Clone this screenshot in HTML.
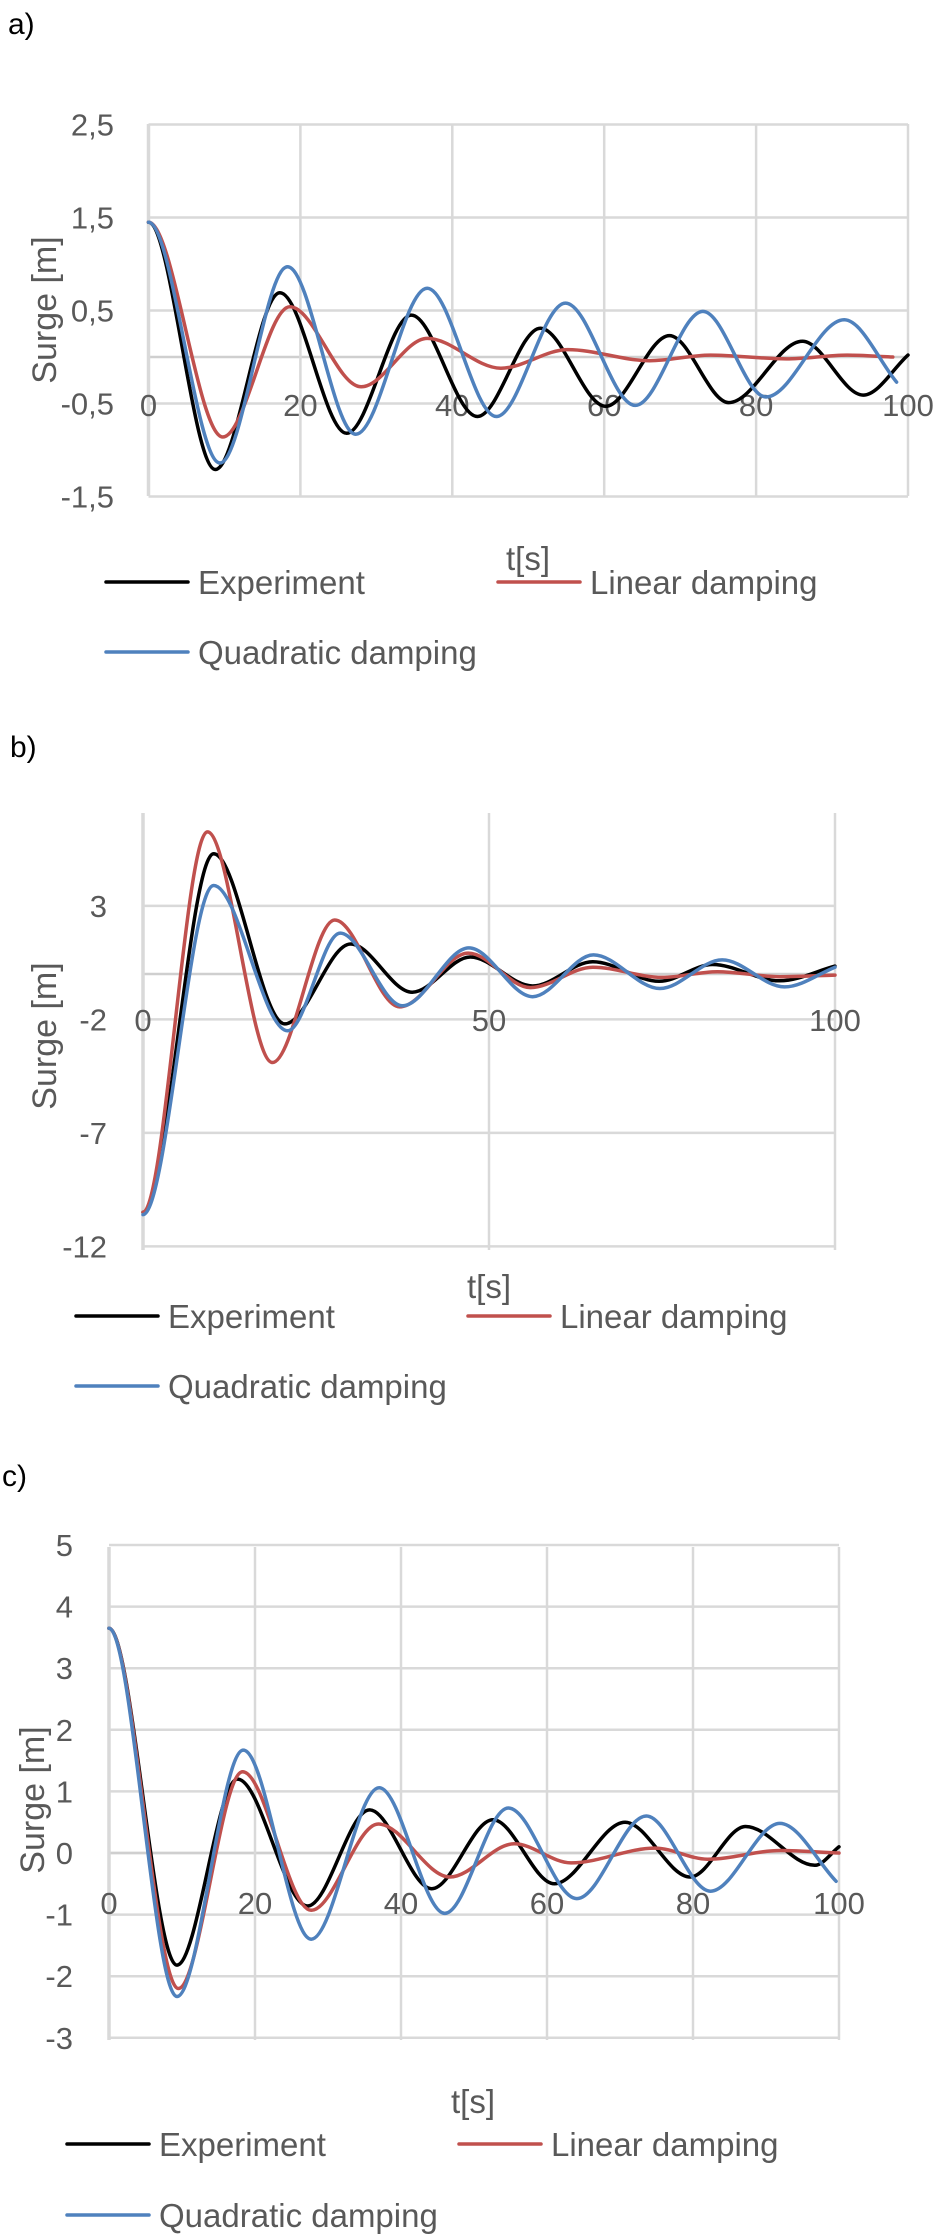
<!DOCTYPE html>
<html><head><meta charset="utf-8"><style>
html,body{margin:0;padding:0;background:#fff;}
svg{display:block;}
text{font-family:"Liberation Sans",sans-serif;}
</style></head><body>
<svg id="fig" width="943" height="2237" viewBox="0 0 943 2237" xmlns="http://www.w3.org/2000/svg"></svg>
<script>
// ---------- Chart a data ----------
const aExpT = [0, 8.8, 17.3, 26.1, 34.6, 43.3, 51.6, 60.2, 68.6, 76.4, 86.1, 94.1, 100];
const aExpV = [1.45, -1.21, 0.69, -0.82, 0.45, -0.64, 0.31, -0.53, 0.23, -0.49, 0.17, -0.41, 0.02];
const aLinT = [0, 9.8, 18.6, 28, 36.7, 46.4, 55.2, 66, 74, 84, 92, 98];
const aLinV = [1.45, -0.86, 0.54, -0.32, 0.2, -0.12, 0.08, -0.04, 0.02, -0.02, 0.02, 0.0];
const aQuaT = [0, 9.4, 18.3, 27.3, 36.7, 45.8, 54.9, 64.1, 73.0, 81.3, 91.6, 98.5];
const aQuaV = [1.45, -1.14, 0.97, -0.83, 0.74, -0.64, 0.58, -0.52, 0.49, -0.43, 0.40, -0.27];
const aYTicks = [2.5, 1.5, 0.5, -0.5, -1.5];
const aYLabels = ["2,5", "1,5", "0,5", "-0,5", "-1,5"];
const aXTicks = [0, 20, 40, 60, 80, 100];

// ---------- Chart b data ----------
const bExpT = [0, 10.2, 20.5, 30, 38.9, 47.3, 56.3, 65, 74.6, 82.3, 92, 100];
const bExpV = [-10.5, 5.3, -2.2, 1.32, -0.8, 0.75, -0.53, 0.54, -0.32, 0.42, -0.3, 0.35];
const bLinT = [0, 9.3, 18.7, 27.7, 37.1, 47, 56, 65, 75, 83, 92, 100];
const bLinV = [-10.5, 6.26, -3.9, 2.38, -1.45, 0.92, -0.6, 0.3, -0.15, 0.1, -0.12, -0.05];
const bQuaT = [0, 10.2, 20.9, 28.5, 37.5, 47.1, 56.3, 65.1, 74.7, 83.7, 92.7, 100];
const bQuaV = [-10.6, 3.9, -2.5, 1.8, -1.4, 1.15, -1.0, 0.84, -0.64, 0.62, -0.57, 0.3];
const bYTicks = [3, -2, -7, -12];
const bYLabels = ["3", "-2", "-7", "-12"];
const bXTicks = [0, 50, 100];

// ---------- Chart c data ----------
const cExpT = [0, 9.3, 17.6, 27.2, 35.7, 44.2, 52.6, 61, 70.7, 79.6, 87.2, 96.7, 100];
const cExpV = [3.65, -1.82, 1.2, -0.86, 0.7, -0.58, 0.54, -0.5, 0.5, -0.39, 0.43, -0.2, 0.1];
const cLinT = [0, 9.5, 18.3, 27.7, 36.9, 46.7, 55.5, 63.3, 74.8, 82, 92, 100];
const cLinV = [3.65, -2.2, 1.32, -0.93, 0.47, -0.39, 0.15, -0.16, 0.08, -0.1, 0.04, 0.0];
const cQuaT = [0, 9.3, 18.4, 27.7, 37, 46, 54.7, 64.1, 73.6, 82.4, 91.9, 99.6];
const cQuaV = [3.65, -2.33, 1.67, -1.4, 1.06, -0.98, 0.73, -0.74, 0.6, -0.62, 0.48, -0.46];
const cYTicks = [5, 4, 3, 2, 1, 0, -1, -2, -3];
const cYLabels = ["5", "4", "3", "2", "1", "0", "-1", "-2", "-3"];
const cXTicks = [0, 20, 40, 60, 80, 100];

const NS = "http://www.w3.org/2000/svg";
const svg = document.getElementById("fig");
function mk(tag, attrs, parent) {
  const e = document.createElementNS(NS, tag);
  for (const k in attrs) e.setAttribute(k, attrs[k]);
  (parent || svg).appendChild(e);
  return e;
}
const GRID = "#d9d9d9", TXT = "#595959";
const COLORS = {exp: "#000000", lin: "#c0504d", qua: "#4f81bd"};

function curvePath(ts, vs, sx, sy) {
  let d = "M" + sx(ts[0]).toFixed(1) + "," + sy(vs[0]).toFixed(1);
  for (let i = 0; i < ts.length - 1; i++) {
    const x0 = sx(ts[i]), y0 = sy(vs[i]), x1 = sx(ts[i + 1]), y1 = sy(vs[i + 1]);
    const dx = x1 - x0;
    const last = (i === ts.length - 2);
    const c1x = x0 + dx / 3, c1y = y0;
    const c2x = x1 - dx / 3, c2y = last ? y1 - (y1 - y0) / 3 : y1;
    d += " C" + c1x.toFixed(1) + "," + c1y.toFixed(1) + " " + c2x.toFixed(1) + "," + c2y.toFixed(1) + " " + x1.toFixed(1) + "," + y1.toFixed(1);
  }
  return d;
}

function chart(cfg) {
  const g = mk("g", {});
  
  
  const sx = t => cfg.left + (t - cfg.xmin) / (cfg.xmax - cfg.xmin) * (cfg.right - cfg.left);
  const sy = v => cfg.zeroY - v * cfg.pxPerUnit;

  const lab = mk("text", {x: cfg.labX, y: cfg.labY, "font-size": 30, fill: "#000"}, g);
  lab.textContent = cfg.id + ")";
  
  

  // horizontal gridlines
  cfg.yTicks.forEach((v, i) => {
    const y = sy(v);
    const ln = mk("line", {x1: cfg.left, x2: cfg.right, y1: y, y2: y, stroke: GRID, "stroke-width": 2.5}, g);
    
    
    const tx = mk("text", {x: cfg.yLabRight, y: y + 11, "font-size": 31, fill: TXT, "text-anchor": "end"}, g);
    tx.textContent = cfg.yLabels[i];
    
    
  });
  // zero axis
  const z = mk("line", {x1: cfg.left, x2: cfg.right, y1: sy(0), y2: sy(0), stroke: "#cfcfcf", "stroke-width": 2.5}, g);
  
  
  // vertical gridlines
  cfg.xTicks.forEach(t => {
    const x = sx(t);
    const ln = mk("line", {x1: x, x2: x, y1: cfg.top, y2: cfg.bottom, stroke: GRID, "stroke-width": t === 0 ? 3.5 : 2.5}, g);
    
    
    const tx = mk("text", {x: x, y: cfg.xLabY + 11, "font-size": 31, fill: TXT, "text-anchor": "middle"}, g);
    tx.textContent = String(t);
    
    
  });
  // series
  const series = [["lin", cfg.lin], ["qua", cfg.qua], ["exp", cfg.exp]];
  const order = cfg.order || ["exp", "lin", "qua"];
  order.forEach(key => {
    const s = series.find(q => q[0] === key)[1];
    const p = mk("path", {d: curvePath(s[0], s[1], sx, sy), fill: "none", stroke: COLORS[key], "stroke-width": 3.5, "stroke-linejoin": "round", "stroke-linecap": "round"}, g);
    
    
  });
  // y title
  const yt = mk("text", {x: 0, y: 0, "font-size": 34, fill: TXT, "text-anchor": "middle", transform: "translate(" + (cfg.ytX + 12) + "," + cfg.ytY + ") rotate(-90)"}, g);
  yt.textContent = "Surge [m]";
  
  
  // x title
  const xt = mk("text", {x: cfg.xtX, y: cfg.xtY, "font-size": 33, fill: TXT, "text-anchor": "middle"}, g);
  xt.textContent = "t[s]";
  
  
  // legend
  const L = cfg.leg;
  const entries = [["exp", "Experiment", L.x1, L.y1], ["lin", "Linear damping", L.x2, L.y1], ["qua", "Quadratic damping", L.x1, L.y2]];
  entries.forEach(en => {
    const lg = mk("g", {}, g);
    
    
    mk("line", {x1: en[2], x2: en[2] + 82, y1: en[3], y2: en[3], stroke: COLORS[en[0]], "stroke-width": 3.5, "stroke-linecap": "round"}, lg);
    const tx = mk("text", {x: en[2] + 92, y: en[3] + 12, "font-size": 33, fill: TXT}, lg);
    tx.textContent = en[1];
  });
}

chart({id: "a", labX: 8, labY: 34, left: 148.5, right: 908, top: 124, bottom: 496, xmin: 0, xmax: 100,
  zeroY: 357, pxPerUnit: 93, yTicks: aYTicks, yLabels: aYLabels, xTicks: aXTicks, yLabRight: 114, xLabY: 405,
  exp: [aExpT, aExpV], lin: [aLinT, aLinV], qua: [aQuaT, aQuaV], ytX: 44, ytY: 310, xtX: 528, xtY: 570,
  leg: {x1: 106, x2: 498, y1: 582, y2: 652}});
chart({id: "b", labX: 10, labY: 757, left: 143, right: 835, top: 813, bottom: 1250, xmin: 0, xmax: 100,
  zeroY: 974, pxPerUnit: 22.7, yTicks: bYTicks, yLabels: bYLabels, xTicks: bXTicks, yLabRight: 107, xLabY: 1020,
  exp: [bExpT, bExpV], lin: [bLinT, bLinV], qua: [bQuaT, bQuaV], ytX: 44, ytY: 1036, xtX: 489, xtY: 1298,
  leg: {x1: 76, x2: 468, y1: 1316, y2: 1386}});
chart({id: "c", labX: 2, labY: 1486, left: 109, right: 839, top: 1547, bottom: 2040, xmin: 0, xmax: 100,
  zeroY: 1853, pxPerUnit: 61.6, yTicks: cYTicks, yLabels: cYLabels, xTicks: cXTicks, yLabRight: 73, xLabY: 1903,
  exp: [cExpT, cExpV], lin: [cLinT, cLinV], qua: [cQuaT, cQuaV], ytX: 32, ytY: 1800, xtX: 473, xtY: 2113,
  leg: {x1: 67, x2: 459, y1: 2144, y2: 2215}});
</script>
</body></html>
